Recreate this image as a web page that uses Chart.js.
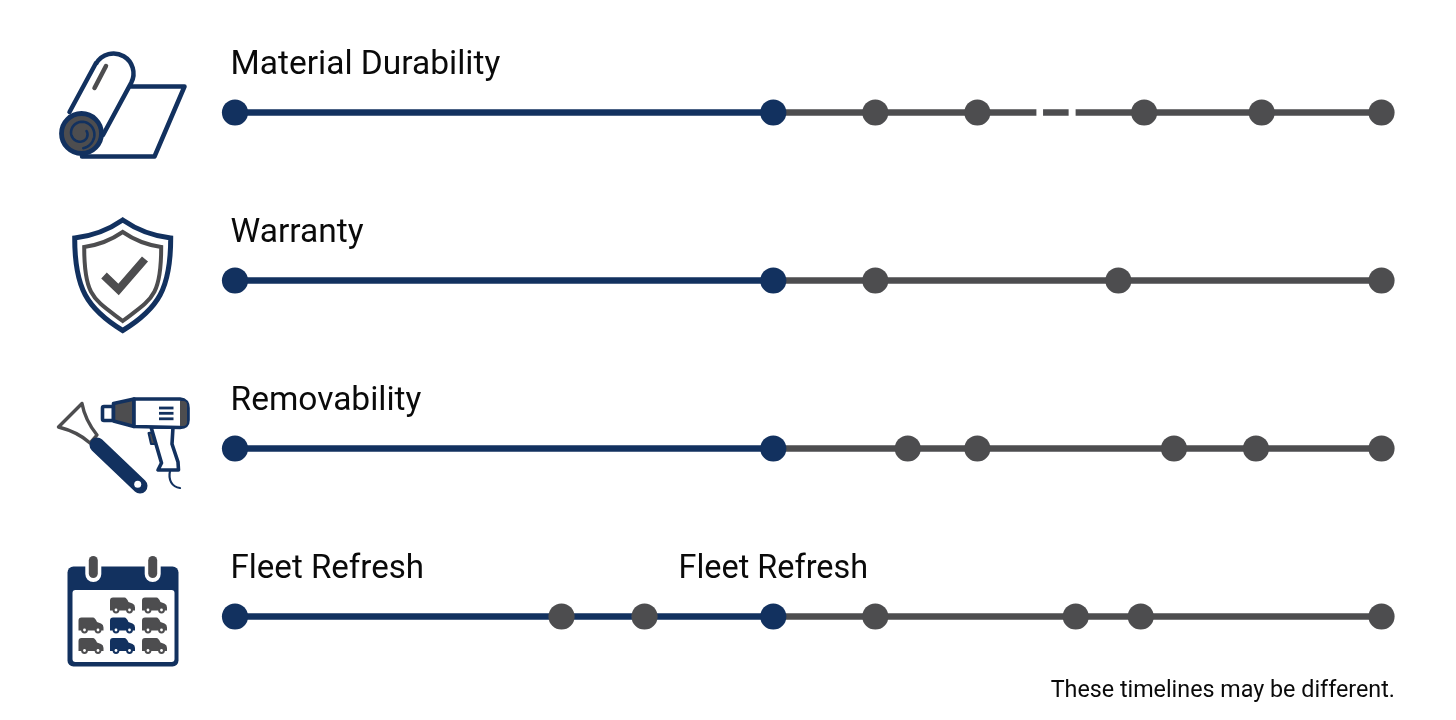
<!DOCTYPE html>
<html>
<head>
<meta charset="utf-8">
<style>html,body{margin:0;padding:0;background:#fff}canvas{display:block}</style>
<script src="https://cdn.jsdelivr.net/npm/chart.js@4"></script>
</head>
<body>
<canvas id="c" width="1456" height="720"></canvas>
<script>
const rowLabels = ["Material Durability", "Warranty", "Removability", "Fleet Refresh"];
const changeover = 46.95;
const start = 0;
const finish = 100;
const materialStops = [55.85, 64.75, 79.3, 89.55, 100];
const warrantyStops = [55.85, 77.05, 100];
const removabilityStops = [58.68, 64.75, 81.9, 89.05, 100];
const fleetEarlyStops = [28.48, 35.72];
const fleetLateStops = [55.85, 73.33, 79, 100];
const materialGreySegments = [[46.95, 69.9], [70.48, 72.71], [73.32, 100]];
const secondFleetLabel = "Fleet Refresh";
const footnote = "These timelines may be different.";

const NAVY = "#12315f", GREY = "#4d4d4f";
const greySegments = [materialGreySegments, [[changeover, finish]], [[changeover, finish]], [[changeover, finish]]];
const greyStops = [materialStops, warrantyStops, removabilityStops, [...fleetEarlyStops, ...fleetLateStops]];

const datasets = [];
rowLabels.forEach((name, r) => {
  const pts = (xs, color, label) => ({
    label, data: xs.map(x => ({x, y: r})), showLine: false,
    pointRadius: 13.1, pointBackgroundColor: color, pointBorderWidth: 0, pointHoverRadius: 13.1
  });
  datasets.push(pts(greyStops[r], GREY, name + " stops"));
  datasets.push(pts([start, changeover], NAVY, name + " milestones"));
});
rowLabels.forEach((name, r) => {
  datasets.push({label: name + " current", data: [start, changeover].map(x => ({x, y: r})),
    borderColor: NAVY, borderWidth: 6.5, pointRadius: 0, showLine: true});
  greySegments[r].forEach(seg => datasets.push({label: name + " future", data: seg.map(x => ({x, y: r})),
    borderColor: GREY, borderWidth: 6.5, pointRadius: 0, showLine: true}));
});

function path(ctx, pts, close) {
  ctx.beginPath();
  pts.forEach((p, i) => i ? ctx.lineTo(p[0], p[1]) : ctx.moveTo(p[0], p[1]));
  if (close) ctx.closePath();
}
function rr(ctx, x, y, w, h, r) { ctx.beginPath(); ctx.roundRect(x, y, w, h, r); }

function drawRoll(ctx) {
  ctx.lineJoin = "round"; ctx.lineCap = "round";
  ctx.strokeStyle = NAVY; ctx.lineWidth = 4.5; ctx.fillStyle = "#fff";
  path(ctx, [[131, 86.5], [184.5, 86.5], [154.5, 156.5], [82, 156.5]]); ctx.stroke();
  ctx.beginPath();
  ctx.moveTo(69.5, 112);
  ctx.lineTo(96, 63);
  ctx.arc(113.5, 73.5, 20, Math.PI * 1.17, Math.PI * 0.15, false);
  ctx.lineTo(103, 135);
  ctx.stroke();
  ctx.strokeStyle = GREY; ctx.lineWidth = 4.5;
  path(ctx, [[106, 66], [94.5, 88]]); ctx.stroke();
  ctx.fillStyle = GREY; ctx.strokeStyle = NAVY; ctx.lineWidth = 4.8;
  ctx.beginPath(); ctx.arc(81.5, 133.5, 20, 0, Math.PI * 2); ctx.fill(); ctx.stroke();
  ctx.lineWidth = 2.6;
  ctx.beginPath();
  for (let a = 0; a < Math.PI * 2.6; a += 0.1) {
    const rad = 6 + a * 1.1;
    const x = 81 + rad * Math.cos(a - 0.4), y = 133.5 + rad * Math.sin(a - 0.4);
    a ? ctx.lineTo(x, y) : ctx.moveTo(x, y);
  }
  ctx.stroke();
}

function shieldPath(ctx, cx, top, hw, sh, bot) {
  ctx.beginPath();
  ctx.moveTo(cx, top);
  ctx.quadraticCurveTo(cx - hw * 0.45, sh - 3, cx - hw, sh);
  ctx.bezierCurveTo(cx - hw, sh + 50, cx - hw * 0.75, bot - 22, cx, bot);
  ctx.bezierCurveTo(cx + hw * 0.75, bot - 22, cx + hw, sh + 50, cx + hw, sh);
  ctx.quadraticCurveTo(cx + hw * 0.45, sh - 3, cx, top);
  ctx.closePath();
}
function drawShield(ctx) {
  ctx.lineJoin = "miter"; ctx.lineCap = "butt";
  ctx.strokeStyle = NAVY; ctx.lineWidth = 5;
  shieldPath(ctx, 122.7, 220, 48, 238, 330.5); ctx.stroke();
  ctx.strokeStyle = GREY; ctx.lineWidth = 4;
  shieldPath(ctx, 122.7, 232, 38.5, 247, 321); ctx.stroke();
  ctx.lineWidth = 8;
  path(ctx, [[104, 275.5], [118.5, 289.5], [145, 259]]); ctx.stroke();
}

function drawHeatGun(ctx) {
  ctx.lineJoin = "round"; ctx.lineCap = "round";
  // scraper blade
  ctx.strokeStyle = GREY; ctx.lineWidth = 3.4; ctx.fillStyle = "#fff";
  ctx.beginPath();
  ctx.moveTo(82, 403.5); ctx.lineTo(58.5, 427);
  ctx.quadraticCurveTo(78, 432, 90, 443);
  ctx.lineTo(97, 435);
  ctx.quadraticCurveTo(85, 420, 82, 403.5);
  ctx.closePath(); ctx.fill(); ctx.stroke();
  // scraper handle
  ctx.strokeStyle = NAVY; ctx.lineWidth = 15;
  path(ctx, [[97, 445], [140, 486]]); ctx.stroke();
  ctx.fillStyle = "#fff";
  ctx.beginPath(); ctx.arc(137.7, 484.3, 3.5, 0, Math.PI * 2); ctx.fill();
  // gun
  ctx.strokeStyle = NAVY; ctx.lineWidth = 3.6;
  rr(ctx, 102.5, 406.5, 11, 14, 1.5); ctx.fill(); ctx.stroke();
  ctx.fillStyle = GREY;
  path(ctx, [[113.5, 403.5], [134, 399], [134, 426.5], [113.5, 421]], true); ctx.fill(); ctx.stroke();
  // trigger
  ctx.fillStyle = GREY; ctx.lineWidth = 2;
  path(ctx, [[148.5, 433], [155, 432], [157, 444], [151, 444]], true); ctx.fill(); ctx.stroke();
  // handle
  ctx.lineWidth = 3.6;
  ctx.fillStyle = "#fff";
  ctx.beginPath();
  ctx.moveTo(151, 427); ctx.lineTo(161.5, 463);
  ctx.lineTo(158, 470); ctx.lineTo(178.5, 470); ctx.lineTo(178, 462);
  ctx.lineTo(172, 444); ctx.lineTo(173, 427);
  ctx.closePath(); ctx.fill(); ctx.stroke();
  // body
  ctx.fillStyle = "#fff";
  ctx.beginPath();
  ctx.moveTo(134, 399); ctx.lineTo(180, 399);
  ctx.quadraticCurveTo(188, 400, 188, 408);
  ctx.lineTo(188, 420);
  ctx.quadraticCurveTo(188, 427, 180, 427.5);
  ctx.lineTo(134, 426.5); ctx.closePath(); ctx.fill(); ctx.stroke();
  ctx.fillStyle = GREY;
  ctx.beginPath(); ctx.roundRect(180, 401, 7, 25, [0, 4, 4, 0]); ctx.fill();
  // vents
  ctx.lineWidth = 2.8; ctx.lineCap = "butt";
  [408, 413.3, 418.8].forEach(y => { path(ctx, [[159, y], [173.5, y]]); ctx.stroke(); });
  // cord
  ctx.lineWidth = 2.2; ctx.lineCap = "round";
  ctx.beginPath(); ctx.moveTo(170, 471);
  ctx.bezierCurveTo(168, 480, 172, 487, 180, 488); ctx.stroke();
}

function van(ctx, cx, cy, color) {
  ctx.fillStyle = color;
  ctx.beginPath();
  ctx.moveTo(cx - 12.5, cy + 5.5);
  ctx.lineTo(cx - 12.5, cy - 4.5);
  ctx.quadraticCurveTo(cx - 12.5, cy - 7.5, cx - 9.5, cy - 7.5);
  ctx.lineTo(cx + 2, cy - 7.5);
  ctx.quadraticCurveTo(cx + 4, cy - 7.5, cx + 6, cy - 3);
  ctx.lineTo(cx + 10, cy - 1.5);
  ctx.quadraticCurveTo(cx + 12.5, cy - 0.5, cx + 12.5, cy + 2.5);
  ctx.lineTo(cx + 12.5, cy + 5.5);
  ctx.closePath(); ctx.fill();
  [-6.5, 7].forEach(dx => {
    ctx.fillStyle = color;
    ctx.beginPath(); ctx.arc(cx + dx, cy + 5, 3.4, 0, Math.PI * 2); ctx.fill();
    ctx.fillStyle = "#fff";
    ctx.beginPath(); ctx.arc(cx + dx, cy + 5, 1.4, 0, Math.PI * 2); ctx.fill();
  });
}
function drawCalendar(ctx) {
  ctx.fillStyle = NAVY; rr(ctx, 67.5, 566.5, 111, 100, 6); ctx.fill();
  ctx.fillStyle = "#fff"; rr(ctx, 72.5, 590, 102, 72, 3); ctx.fill();
  [93.3, 152.7].forEach(x => {
    ctx.fillStyle = "#fff"; rr(ctx, x - 8, 556, 16, 26, 8); ctx.fill();
    ctx.fillStyle = GREY; rr(ctx, x - 4.5, 556, 9, 22, 4.5); ctx.fill();
  });
  const vanGrid = [
    [122.5, 605, GREY], [154.5, 605, GREY],
    [91, 625, GREY], [122.5, 625, NAVY], [154.5, 625, GREY],
    [91, 645.5, GREY], [122.5, 645.5, NAVY], [154.5, 645.5, GREY]
  ];
  vanGrid.forEach(v => van(ctx, v[0], v[1], v[2]));
}

const decor = {
  id: "decor",
  afterDraw(chart) {
    const ctx = chart.ctx, xs = chart.scales.x, ys = chart.scales.y;
    ctx.save();
    ctx.fillStyle = "#0a0a0a";
    ctx.textBaseline = "alphabetic";
    ctx.textAlign = "left";
    rowLabels.forEach((t, r) => {
      ctx.font = (r === 3 ? "33.1px" : "33.5px") + " Roboto";
      ctx.fillText(t, xs.getPixelForValue(start) - 4.5, ys.getPixelForValue(r) - 39);
    });
    ctx.textAlign = "center";
    ctx.font = "32.4px Roboto";
    ctx.fillText(secondFleetLabel, xs.getPixelForValue(changeover), ys.getPixelForValue(3) - 39);
    ctx.textAlign = "right";
    ctx.font = "23.3px Roboto";
    ctx.fillText(footnote, 1395, 697);
    drawRoll(ctx); drawShield(ctx); drawHeatGun(ctx); drawCalendar(ctx);
    ctx.restore();
  }
};

new Chart(document.getElementById("c"), {
  type: "scatter",
  data: {datasets},
  plugins: [decor],
  options: {
    responsive: false, animation: false, devicePixelRatio: 1,
    clip: false,
    layout: {padding: {left: 235, right: 74.5, top: 112.5, bottom: 103.5}},
    plugins: {legend: {display: false}, tooltip: {enabled: false}},
    scales: {
      x: {type: "linear", min: start, max: finish, display: false},
      y: {type: "linear", min: 0, max: 3, reverse: true, display: false}
    }
  }
});
</script>
</body>
</html>
